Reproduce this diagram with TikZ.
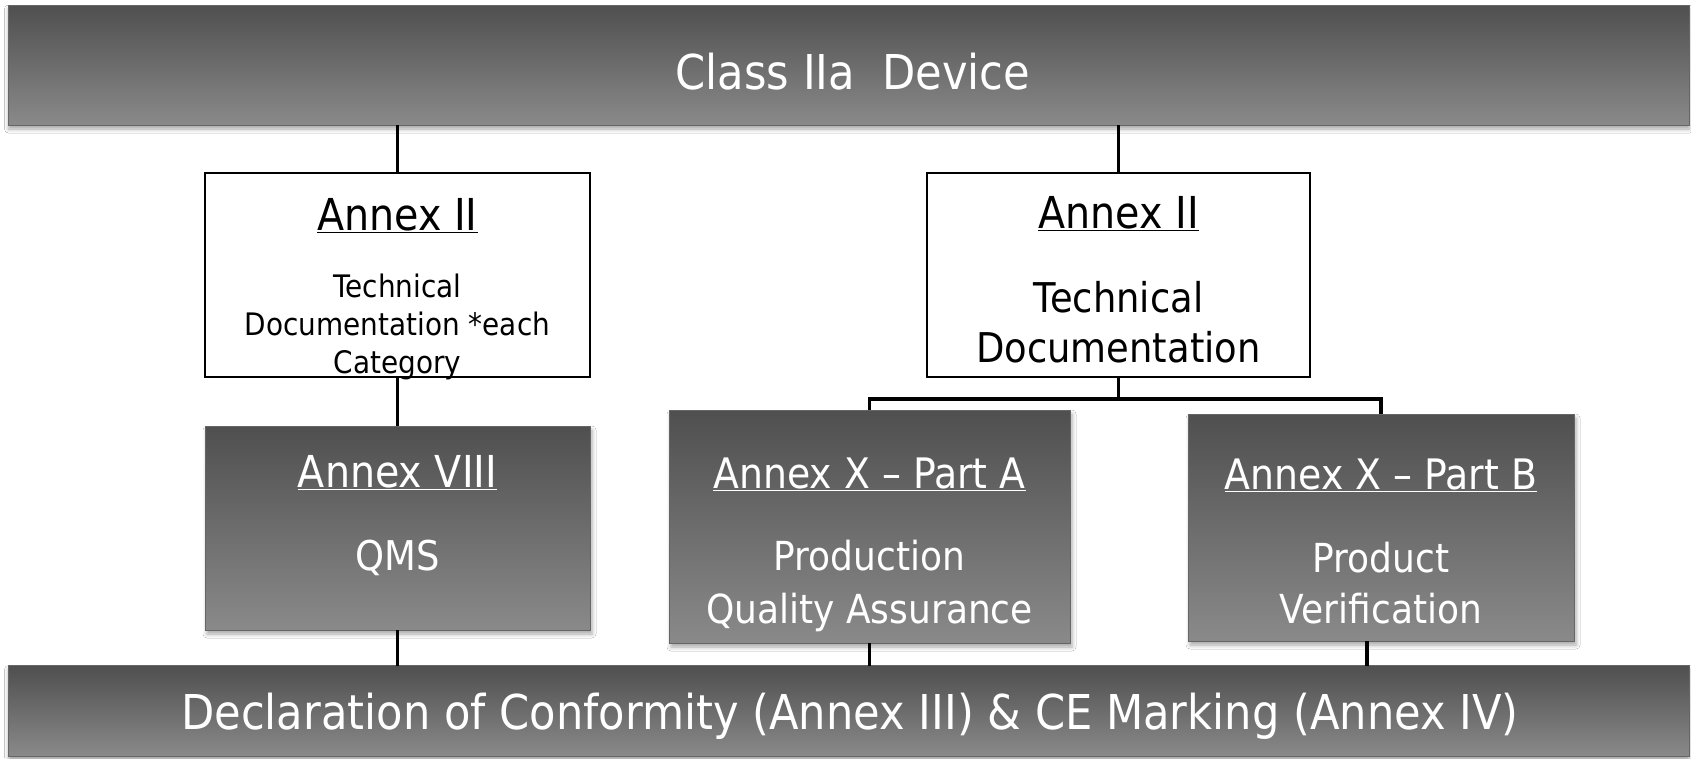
\documentclass[tikz,border=0pt]{standalone}
\usepackage{fontspec}
\setmainfont{DejaVu Sans}[FakeStretch=0.9]
\usetikzlibrary{shadows.blur}

\begin{document}
\begin{tikzpicture}[x=1pt, y=-1pt,
    greyfill/.style={top color=black!69, bottom color=black!46, draw=black!60, line width=0.8pt, inner sep=0, outer sep=0},
    bar/.style={greyfill, minimum width=1681, blur shadow={shadow xshift=0pt, shadow yshift=-4pt, shadow blur radius=4pt, shadow opacity=35}},
    greybox/.style={greyfill, blur shadow={shadow xshift=2pt, shadow yshift=-4pt, shadow blur radius=4pt, shadow opacity=35}},
    whitebox/.style={draw=black, line width=2pt, fill=white, inner sep=0, outer sep=0},
    head/.style={inner sep=0, anchor=base, font=\fontsize{44}{52}\selectfont},
    body/.style={inner sep=0, anchor=north, align=center},
    link/.style={draw=black, line width=3.5pt}]
    \useasboundingbox[fill=white] (0,0) rectangle (1691,758);

    \node[bar, minimum height=120] (device) at (849,65) {};
    \node[head, text=white, font=\fontsize{48}{58}\selectfont] (devicelbl) at (853,89) {Class IIa\ \ Device};

    \node[whitebox, minimum width=385, minimum height=204] (techL) at (397.5,275) {};
    \node[head] (techLhead) at (397.5,230) {\underline{Annex II}};
    \node[body, font=\fontsize{31}{38}\selectfont] (techLbody) at (397.5,273.5) {Technical\\Documentation *each\\Category};

    \node[whitebox, minimum width=383, minimum height=204] (techR) at (1118.5,275) {};
    \node[head] (techRhead) at (1118.5,228) {\underline{Annex II}};
    \node[body, font=\fontsize{41}{50}\selectfont] (techRbody) at (1118.5,281) {Technical\\Documentation};

    \node[greybox, minimum width=385, minimum height=204] (qms) at (397.5,528) {};
    \node[head, text=white] (qmshead) at (397.5,487) {\underline{Annex VIII}};
    \node[head, text=white, font=\fontsize{41}{50}\selectfont] (qmsbody) at (397.5,570) {QMS};

    \node[greybox, minimum width=401, minimum height=233] (partA) at (869.5,526.5) {};
    \node[head, text=white, font=\fontsize{42}{50}\selectfont] (partAhead) at (869.5,488) {\underline{Annex X -- Part A}};
    \node[body, text=white, font=\fontsize{40}{53}\selectfont] (partAbody) at (869.5,539.6) {Production\\Quality Assurance};

    \node[greybox, minimum width=386, minimum height=227] (partB) at (1381,527.5) {};
    \node[head, text=white, font=\fontsize{42}{50}\selectfont] (partBhead) at (1381,489) {\underline{Annex X -- Part B}};
    \node[body, text=white, font=\fontsize{40}{51}\selectfont] (partBbody) at (1381,541.6) {Product\\Verification};

    \node[bar, minimum height=91] (decl) at (849,711) {};
    \node[head, text=white, font=\fontsize{48}{58}\selectfont] (decllbl) at (850,729) {Declaration of Conformity (Annex III) \& CE Marking (Annex IV)};

    \coordinate (fork) at (1118.5,399);
    \coordinate (partBfoot) at (1367,641);

    \draw [link] (device.south -| techL.north) to (techL.north);
    \draw [link] (device.south -| techR.north) to (techR.north);
    \draw [link] (techL.south) to (qms.north);
    \draw [link] (techR.south) to (fork);
    \draw [link] (partA.north) |- (fork) -| (partB.north);
    \foreach \n in {qms, partA}
        \draw [link] (\n.south) to (\n.south |- decl.north);
    \draw [link] (partBfoot) to (partBfoot |- decl.north);
\end{tikzpicture}
\end{document}
